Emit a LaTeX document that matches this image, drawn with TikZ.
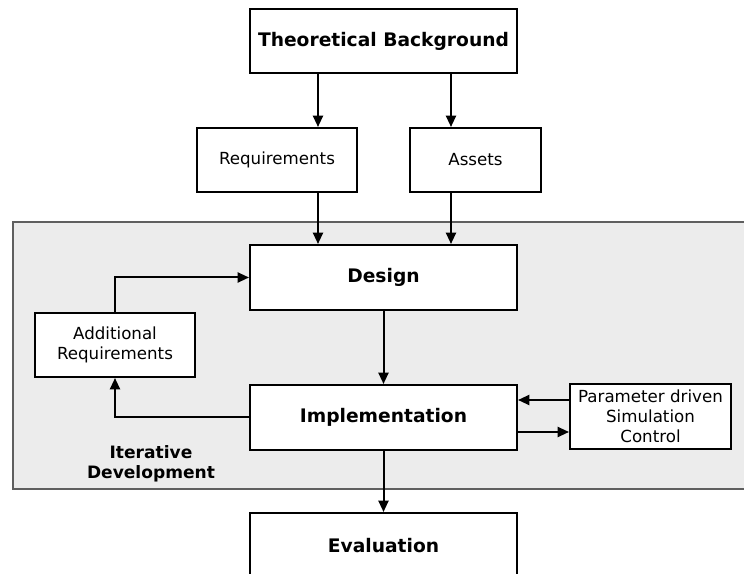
\documentclass[tikz,border=0pt]{standalone}
\usepackage{fontspec}
\setmainfont{DejaVu Sans}
\usetikzlibrary{arrows.meta}
\definecolor{regionfill}{HTML}{ECECEC}
\definecolor{regionline}{HTML}{5F5F5F}
\begin{document}
\begin{tikzpicture}[x=0.75pt,y=-0.75pt,
  box/.style={draw=black, line width=1.5pt, fill=white, rectangle, inner sep=0pt, align=center},
  bigbox/.style={box, minimum width=267*0.75pt, minimum height=64*0.75pt, font=\fontsize{14}{17}\selectfont\bfseries},
  smallbox/.style={box, minimum height=64*0.75pt, font=\fontsize{12.5}{15}\selectfont},
  arr/.style={line width=1.5pt, -{Triangle[length=8.5pt,width=7.5pt]}}
]
\useasboundingbox (0,0) rectangle (744,574);
% iterative region
\draw[fill=regionfill, draw=regionline, line width=1.4pt] (13,222) rectangle (770,489);
\node[font=\fontsize{12.8}{15}\selectfont\bfseries, align=center] (iter) at (151,464) {Iterative\\Development};

\node[bigbox] (tb) at (383.5,41.5) {Theoretical Background};
\node[smallbox, minimum width=160*0.75pt] (req) at (277,160) {Requirements};
\node[smallbox, minimum width=131*0.75pt] (assets) at (475.5,160) {Assets};
\node[bigbox, minimum height=65*0.75pt] (design) at (383.5,277.5) {Design};
\node[smallbox, minimum width=160*0.75pt] (addreq) at (115,345) {Additional\\Requirements};
\node[bigbox, minimum height=65*0.75pt] (impl) at (383.5,417.5) {Implementation};
\node[smallbox, minimum width=161*0.75pt, minimum height=65*0.75pt] (param) at (650.5,416.5) {Parameter driven\\Simulation\\Control};
\node[bigbox, minimum height=66*0.75pt] (eval) at (383.5,546) {Evaluation};

\coordinate (ca) at (318,0);
\coordinate (cb) at (451,0);
\coordinate (cu) at (0,400);
\coordinate (cl) at (0,432);

\draw[arr] (tb.south -| ca) -- (req.north -| ca);
\draw[arr] (tb.south -| cb) -- (assets.north -| cb);
\draw[arr] (req.south -| ca) -- (design.north -| ca);
\draw[arr] (assets.south -| cb) -- (design.north -| cb);
\draw[arr] (design.south) -- (impl.north);
\draw[arr] (impl.south) -- (eval.north);
\draw[arr] (addreq.north) |- (design.west);
\draw[arr] (impl.west) -| (addreq.south);
\draw[arr] (param.west |- cu) -- (impl.east |- cu);
\draw[arr] (impl.east |- cl) -- (param.west |- cl);
\end{tikzpicture}
\end{document}
